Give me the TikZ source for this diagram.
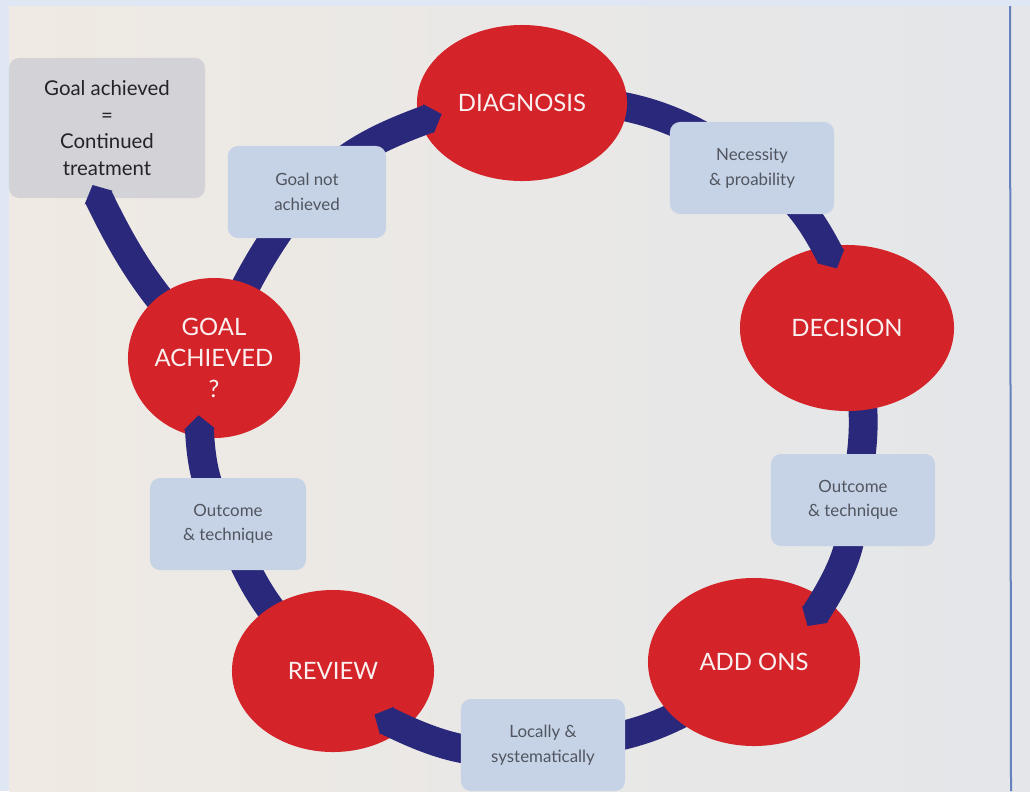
\documentclass[tikz,border=0pt]{standalone}
\usepackage{fontspec}
\setmainfont{Lato}
\usetikzlibrary{arrows.meta,shapes.geometric}
\definecolor{discred}{RGB}{212,36,42}
\definecolor{bandblue}{RGB}{42,40,122}
\definecolor{boxblue}{RGB}{198,211,230}
\definecolor{boxgrey}{RGB}{211,211,215}
\definecolor{pagewarm}{RGB}{239,234,227}
\definecolor{pagecool}{RGB}{228,230,233}
\definecolor{frameblue}{RGB}{223,231,245}
\definecolor{ruleblue}{RGB}{100,130,190}
\definecolor{notetext}{RGB}{80,85,95}
\pgfdeclarelayer{back}
\pgfdeclarelayer{front}
\pgfsetlayers{back,main,front}
\tikzset{
    stage/.style={ellipse,fill=discred,text={rgb,255:red,250;green,240;blue,240},inner sep=0pt,
        align=center,font=\fontsize{17}{22}\selectfont},
    note/.style={rectangle,rounded corners=0.25cm,fill=boxblue,text=notetext,align=center,
        minimum width=4.1cm,minimum height=2.3cm,font=\fontsize{12}{17.5}\selectfont},
    result/.style={rectangle,rounded corners=0.25cm,fill=boxgrey,text={rgb,255:red,35;green,35;blue,40},
        align=center,minimum width=4.9cm,minimum height=3.5cm,font=\fontsize{14.5}{19}\selectfont},
    link/.style={line width=0.72cm,bandblue},
    flow/.style={link,-{Triangle[length=0.35cm,width=0.76cm]},shorten >=-0.62cm}
}

\begin{document}
\begin{tikzpicture}[x=0.025cm,y=0.025cm]

    \begin{pgfonlayer}{back}
        \fill[frameblue] (0,0) rectangle (1030,-791);
        \shade[left color=pagewarm,right color=pagecool] (9,-6) rectangle (1030,-791);
        \draw[ruleblue,line width=0.05cm] (1010,-6) -- (1011,-791);
    \end{pgfonlayer}
    \useasboundingbox (0,0) rectangle (1030,-791);

    % the five stages
    \node[stage,minimum width=5.25cm,minimum height=3.9cm]  (diag) at (522,-103) {DIAGNOSIS};
    \node[stage,minimum width=5.35cm,minimum height=4.15cm] (dec)  at (847,-328) {DECISION};
    \node[stage,minimum width=5.3cm,minimum height=4.2cm]   (add)  at (754,-662) {ADD ONS};
    \node[stage,minimum width=5.05cm,minimum height=4.05cm] (rev)  at (333,-671) {REVIEW};
    \node[stage,minimum width=4.3cm,minimum height=4cm]     (goal) at (214,-358) {GOAL\\ACHIEVED\\?};

    % what links them
    \begin{pgfonlayer}{front}
        \node[note] (nec)  at (752,-168) {Necessity\\\& proability};
        \node[note] (outr) at (853,-500) {Outcome\\\& technique};
        \node[note] (loc)  at (543,-745) {Locally \&\\systematically};
        \node[note,minimum width=3.9cm] (outl) at (228,-524) {Outcome\\\& technique};
        \node[note,minimum width=3.95cm] (gna) at (307,-192) {Goal not\\achieved};
    \end{pgfonlayer}

    \begin{pgfonlayer}{back}
        \node[result] (gach) at (107,-128) {Goal achieved\\=\\Continued\\treatment};

        \draw[link] (diag.center) to[bend left=21] (nec.center);
        \draw[link] (dec.center)  to[bend left=15] (outr.center);
        \draw[link] (add.center)  to[bend left=20] (loc.center);
        \draw[link] (rev.center)  to[bend left=16] (outl.center);
        \draw[link] (goal.center) to[bend left=8] (gna.center);

        \draw[flow,shorten >=-0.37cm] (goal.center) to[bend left=10] ([xshift=-0.2cm]gach.south);
    \end{pgfonlayer}

    \draw[flow] (nec.center)  to[bend left=16] (dec);
    \draw[flow,shorten >=-0.8cm]  (outr.center) to[bend left=17] (add);
    \draw[flow,shorten >=-0.82cm] (loc.center)  to[bend left=20] (rev);
    \draw[flow,shorten >=-0.55cm] (outl.center) to[bend left=15] (goal);
    \draw[flow,shorten >=-0.58cm] (gna.center)  to[bend left=12] (diag);

\end{tikzpicture}
\end{document}
